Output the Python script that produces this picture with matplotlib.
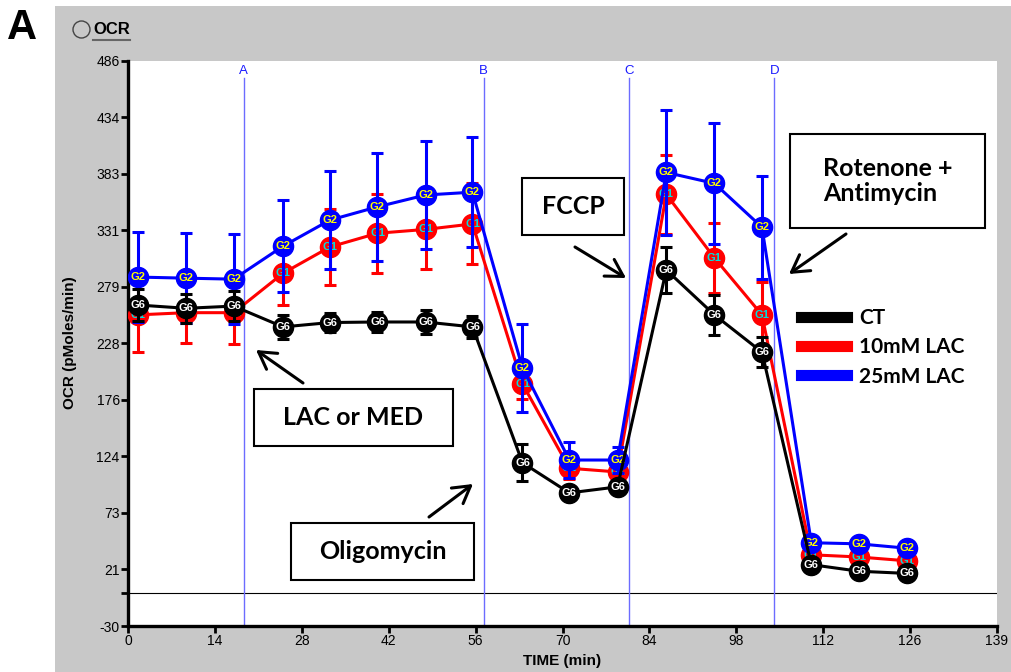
import matplotlib.pyplot as plt
from matplotlib.patches import Rectangle, Ellipse
from matplotlib.lines import Line2D

# measurement times (min)
time = [1.6, 9.3, 16.9, 24.8, 32.3, 39.9, 47.6, 55.1, 63.1, 70.6,
        78.3, 86.1, 93.8, 101.4, 109.3, 116.9, 124.6]

# OCR (pMoles/min) per group
ct = [263, 260, 262, 243, 247, 247.5, 247.5, 243, 119, 91.5,
      97, 295, 254, 220, 26, 20, 18]
ct_err = [15, 13, 14, 11, 9, 9, 11, 10, 17, 5, 4, 21, 18, 14, 3, 3, 3]

lac10 = [254, 256, 256, 292, 316, 328.5, 332, 337, 191, 114,
         110.6, 364, 306, 254, 35, 33, 29.5]
lac10_err = [34, 28, 29, 29, 35, 36, 36, 37, 14, 10, 8, 36, 32, 30, 4, 4, 4]

lac25 = [288.5, 287.5, 286.6, 316.7, 340.5, 352.6, 363.4, 366, 205.5, 121.5,
         121.5, 384, 374, 334, 46, 45, 41]
lac25_err = [41, 41, 41, 42, 45, 49, 49, 50, 40, 16, 12, 57, 55, 47, 4, 4, 4]

# injection ports
inject_times = [18.5, 56.9, 80.1, 103.4]
inject_labels = ["A", "B", "C", "D"]

yticks = [-30, 21.6, 73.2, 124.8, 176.4, 228, 279.6, 331.2, 382.8, 434.4, 486]
ytick_labels = ["-30", "21", "73", "124", "176", "228", "279", "331", "383", "434", "486"]
xticks = [0, 13.9, 27.8, 41.7, 55.6, 69.5, 83.4, 97.3, 111.2, 125.1, 139]
xtick_labels = ["0", "14", "28", "42", "56", "70", "84", "98", "112", "126", "139"]

W, H = 1011, 672


def fx(px):
    return px / W


def fy(py):
    return 1 - py / H


plt.rcParams["font.family"] = ["Liberation Sans", "DejaVu Sans"]

fig = plt.figure(figsize=(W / 100, H / 100), dpi=100)
fig.add_artist(Rectangle((fx(55), 0), 1 - fx(55), fy(6), transform=fig.transFigure,
                         facecolor="#c8c8c8", edgecolor="none", zorder=-5))

ax = fig.add_axes([fx(128), fy(626), fx(997) - fx(128), fy(60.7) - fy(626)])
ax.set_facecolor("white")
ax.set_xlim(0, 139)
ax.set_ylim(-30, 486)
for s in ["top", "right"]:
    ax.spines[s].set_visible(False)
for s in ["left", "bottom"]:
    ax.spines[s].set_linewidth(2.4)

ax.set_yticks(yticks)
ax.set_yticklabels(ytick_labels)
ax.set_yticks([0], minor=True)
ax.set_xticks(xticks)
ax.set_xticklabels(xtick_labels)
ax.tick_params(which="both", direction="out", length=5, width=2, labelsize=10, pad=1)

ax.axhline(0, color="black", lw=0.8, zorder=1)

for t, lab in zip(inject_times, inject_labels):
    ax.plot([t, t], [-30, 470], color="#6c6cff", lw=1.0, zorder=1)
    ax.text(t, 477, lab, color="#1a1aff", ha="center", va="center", fontsize=9.5)

series = [
    (lac10, lac10_err, "#ff0000", "G1", "#00e0e0"),
    (lac25, lac25_err, "#0000ff", "G2", "#ffff00"),
    (ct, ct_err, "black", "G6", "white"),
]
for i, (vals, errs, col, tag, tcol) in enumerate(series):
    z = 3 + i
    ax.errorbar(time, vals, yerr=errs, fmt="none", ecolor=col, elinewidth=2.2,
                capsize=4, capthick=2.2, zorder=z)
    ax.plot(time, vals, color=col, lw=2.2, marker="o", ms=14.5, mfc=col, mec=col,
            zorder=z + 0.1)
    for t, v in zip(time, vals):
        ax.text(t, v, tag, color=tcol, ha="center", va="center", fontsize=8,
                fontweight="bold", zorder=z + 0.2)

# legend
handles = [Line2D([], [], color="black", lw=8),
           Line2D([], [], color="#ff0000", lw=8),
           Line2D([], [], color="#0000ff", lw=8)]
ax.legend(handles, ["CT", "10mM LAC", "25mM LAC"], loc="upper left",
          bbox_to_anchor=(fx(801), fy(308)), bbox_transform=fig.transFigure,
          frameon=False, borderpad=0, borderaxespad=0, handlelength=2.2,
          handletextpad=0.6, labelspacing=0.45,
          prop={"family": "Lato", "weight": "bold", "size": 15})

# annotation boxes with arrows
boxes = [
    (254, 389, 453, 446, "LAC or MED"),
    (291, 523, 474, 580, "Oligomycin"),
    (522, 178, 624, 235, "FCCP"),
    (790, 134, 985, 228, "Rotenone +\nAntimycin"),
]
for x0, y0, x1, y1, label in boxes:
    fig.add_artist(Rectangle((fx(x0), fy(y1)), fx(x1) - fx(x0), fy(y0) - fy(y1),
                             transform=fig.transFigure, facecolor="white",
                             edgecolor="black", lw=1.5, zorder=10))
    fig.text(fx((x0 + x1) / 2), fy((y0 + y1) / 2), label, ha="center", va="center",
             multialignment="left", family="Lato", fontweight="bold", fontsize=18,
             linespacing=1.15, zorder=11)

arrows = [((303, 383), (256, 350)), ((429, 517), (473, 484)),
          ((575, 247), (626, 278)), ((846, 234), (789, 274))]
for (tx, ty), (hx, hy) in arrows:
    ax.annotate("", xy=(fx(hx), fy(hy)), xytext=(fx(tx), fy(ty)),
                xycoords=fig.transFigure, textcoords=fig.transFigure,
                arrowprops=dict(arrowstyle="->,head_length=0.6,head_width=0.35",
                                lw=2.2, color="black", mutation_scale=20,
                                shrinkA=0, shrinkB=0), zorder=12)

# axis labels
fig.text(fx(562), fy(661), "TIME (min)", ha="center", va="center",
         fontsize=11, fontweight="bold")
fig.text(fx(70), fy(343), "OCR (pMoles/min)", ha="center", va="center",
         rotation=90, fontsize=11, fontweight="bold")

# panel label and header
fig.text(fx(22), fy(28), "A", ha="center", va="center", fontsize=30, fontweight="bold")
fig.add_artist(Ellipse((fx(81.5), fy(29.5)), 17 / W, 17 / H, transform=fig.transFigure,
                       facecolor="none", edgecolor="#444444", lw=1))
fig.text(fx(93), fy(29), "OCR", ha="left", va="center", fontsize=12, fontweight="bold")
fig.add_artist(Line2D([fx(93), fx(130)], [fy(40), fy(40)], transform=fig.transFigure,
                      color="#666666", lw=1.5))

fig.savefig("out.png", dpi=100)
